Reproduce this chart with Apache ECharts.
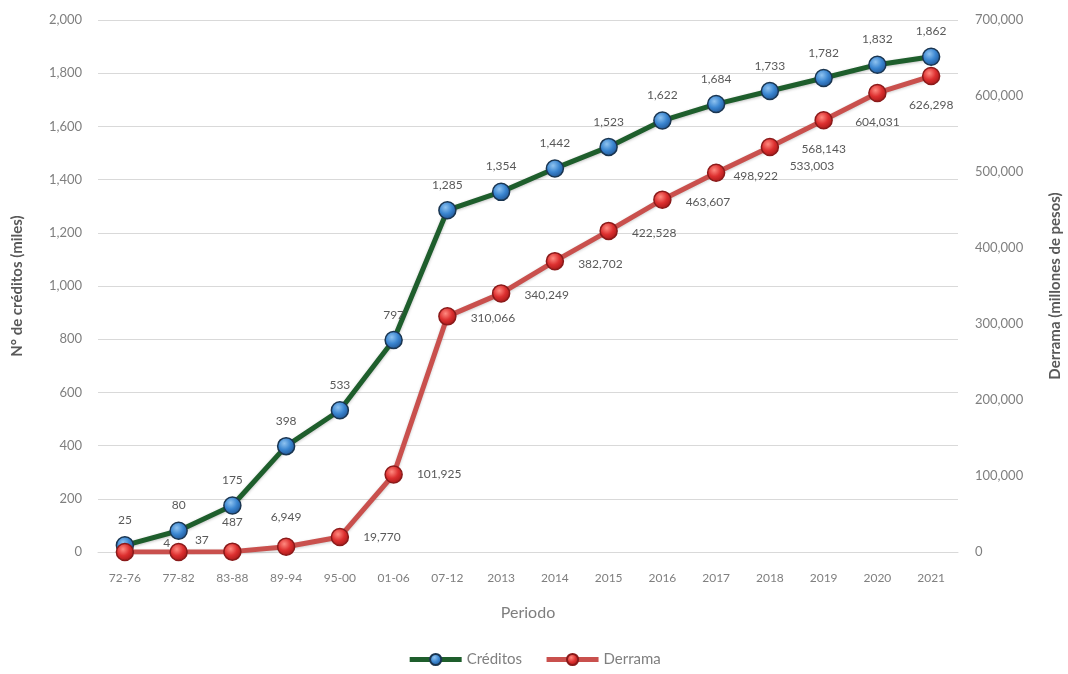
<!DOCTYPE html>
<html>
<head>
<meta charset="utf-8">
<script src="https://cdn.jsdelivr.net/npm/echarts@6/dist/echarts.min.js"></script>
<style>
html,body{margin:0;padding:0;background:#fff;}
#c{width:1068px;height:674px;}
</style>
</head>
<body>
<div id="c"></div>
<script>
const categories = ['72-76','77-82','83-88','89-94','95-00','01-06','07-12','2013','2014','2015','2016','2017','2018','2019','2020','2021'];
const creditos = [25, 80, 175, 398, 533, 797, 1285, 1354, 1442, 1523, 1622, 1684, 1733, 1782, 1832, 1862];
const derrama = [4, 37, 487, 6949, 19770, 101925, 310066, 340249, 382702, 422528, 463607, 498922, 533003, 568143, 604031, 626298];
const leftTicks = {min: 0, max: 2000, interval: 200};
const rightTicks = {min: 0, max: 700000, interval: 100000};

const FONT = 'Lato, "Open Sans", sans-serif';
const fmt = v => Number(v).toLocaleString('en-US');

// label placement for Derrama points (style only)
const derramaLabelPos = [
  {position: 'right', offset: [24, -9]},
  {position: 'right', offset: [2, -12]},
  {position: 'top', distance: 14},
  {position: 'top', distance: 14},
  {position: 'right', distance: 14},
  {position: 'right', distance: 14},
  {position: 'right', distance: 14, offset: [0, 2]},
  {position: 'right', distance: 14, offset: [0, 2]},
  {position: 'right', distance: 14, offset: [0, 3]},
  {position: 'right', distance: 14, offset: [0, 2]},
  {position: 'right', distance: 14, offset: [0, 2]},
  {position: 'right', distance: 8, offset: [0, 3]},
  {position: 'bottom', distance: 4, offset: [42, 0]},
  {position: 'bottom', distance: 14, offset: [0, 0]},
  {position: 'bottom', distance: 14, offset: [0, 0]},
  {position: 'bottom', distance: 14, offset: [0, 0]}
];

const blueMarker = {
  type: 'radial', x: 0.4, y: 0.35, r: 0.7,
  colorStops: [{offset: 0, color: '#8fc3f0'}, {offset: 0.5, color: '#3a85d0'}, {offset: 1, color: '#1d4f8c'}]
};
const redMarker = {
  type: 'radial', x: 0.4, y: 0.35, r: 0.7,
  colorStops: [{offset: 0, color: '#ff8a80'}, {offset: 0.5, color: '#dd3030'}, {offset: 1, color: '#a01515'}]
};

const chart = echarts.init(document.getElementById('c'));
chart.setOption({
  backgroundColor: '#ffffff',
  animation: false,
  textStyle: {fontFamily: FONT},
  grid: {left: 98, right: 110, top: 20, bottom: 122, containLabel: false, outerBoundsMode: 'none'},
  legend: {
    bottom: 2,
    left: 'center',
    itemWidth: 52,
    itemHeight: 14,
    itemGap: 22,
    textStyle: {fontFamily: FONT, fontSize: 15, color: '#7f7f7f'},
    data: [
      {name: 'Créditos', lineStyle: {width: 5}},
      {name: 'Derrama', lineStyle: {width: 5}}
    ]
  },
  xAxis: {
    type: 'category',
    data: categories,
    boundaryGap: true,
    name: 'Periodo',
    nameLocation: 'middle',
    nameGap: 53,
    nameTextStyle: {fontFamily: FONT, fontSize: 16, color: '#7f7f7f'},
    axisLine: {show: true, lineStyle: {color: '#d9d9d9'}},
    axisTick: {show: false},
    axisLabel: {fontFamily: FONT, fontSize: 12, color: '#7f7f7f', margin: 20, interval: 0}
  },
  yAxis: [
    {
      type: 'value',
      min: leftTicks.min, max: leftTicks.max, interval: leftTicks.interval,
      name: 'N° de créditos (miles)',
      nameLocation: 'middle',
      nameGap: 73,
      nameRotate: 90,
      nameTextStyle: {fontFamily: FONT, fontSize: 15, fontWeight: 'bold', color: '#595959'},
      axisLine: {show: false},
      axisTick: {show: false},
      splitLine: {lineStyle: {color: '#d9d9d9', width: 1}},
      axisLabel: {fontFamily: FONT, fontSize: 13, color: '#7f7f7f', margin: 16, formatter: v => fmt(v)}
    },
    {
      type: 'value',
      min: rightTicks.min, max: rightTicks.max, interval: rightTicks.interval,
      name: 'Derrama (millones de pesos)',
      nameLocation: 'middle',
      nameGap: 90,
      nameRotate: 90,
      nameTextStyle: {fontFamily: FONT, fontSize: 15, fontWeight: 'bold', color: '#595959'},
      axisLine: {show: false},
      axisTick: {show: false},
      splitLine: {show: false},
      axisLabel: {fontFamily: FONT, fontSize: 13, color: '#7f7f7f', margin: 17, formatter: v => fmt(v)}
    }
  ],
  series: [
    {
      name: 'Créditos',
      type: 'line',
      yAxisIndex: 0,
      data: creditos,
      symbol: 'circle',
      symbolSize: 17,
      lineStyle: {color: '#1e5e2c', width: 5, shadowColor: 'rgba(0,0,0,0.25)', shadowBlur: 3, shadowOffsetY: 1},
      itemStyle: {color: blueMarker, borderColor: '#1a3550', borderWidth: 1.5},
      label: {
        show: true, position: 'top', distance: 10,
        fontFamily: FONT, fontSize: 12, color: '#595959',
        formatter: p => fmt(p.value)
      },
      z: 2
    },
    {
      name: 'Derrama',
      type: 'line',
      yAxisIndex: 1,
      data: derrama.map((v, i) => ({value: v, label: derramaLabelPos[i]})),
      symbol: 'circle',
      symbolSize: 17,
      lineStyle: {color: '#c9504d', width: 5, shadowColor: 'rgba(0,0,0,0.2)', shadowBlur: 3, shadowOffsetY: 1},
      itemStyle: {color: redMarker, borderColor: '#8a1a1a', borderWidth: 1.5},
      label: {
        show: true,
        fontFamily: FONT, fontSize: 12, color: '#595959',
        formatter: p => fmt(p.value)
      },
      z: 3
    }
  ]
});
</script>
</body>
</html>
